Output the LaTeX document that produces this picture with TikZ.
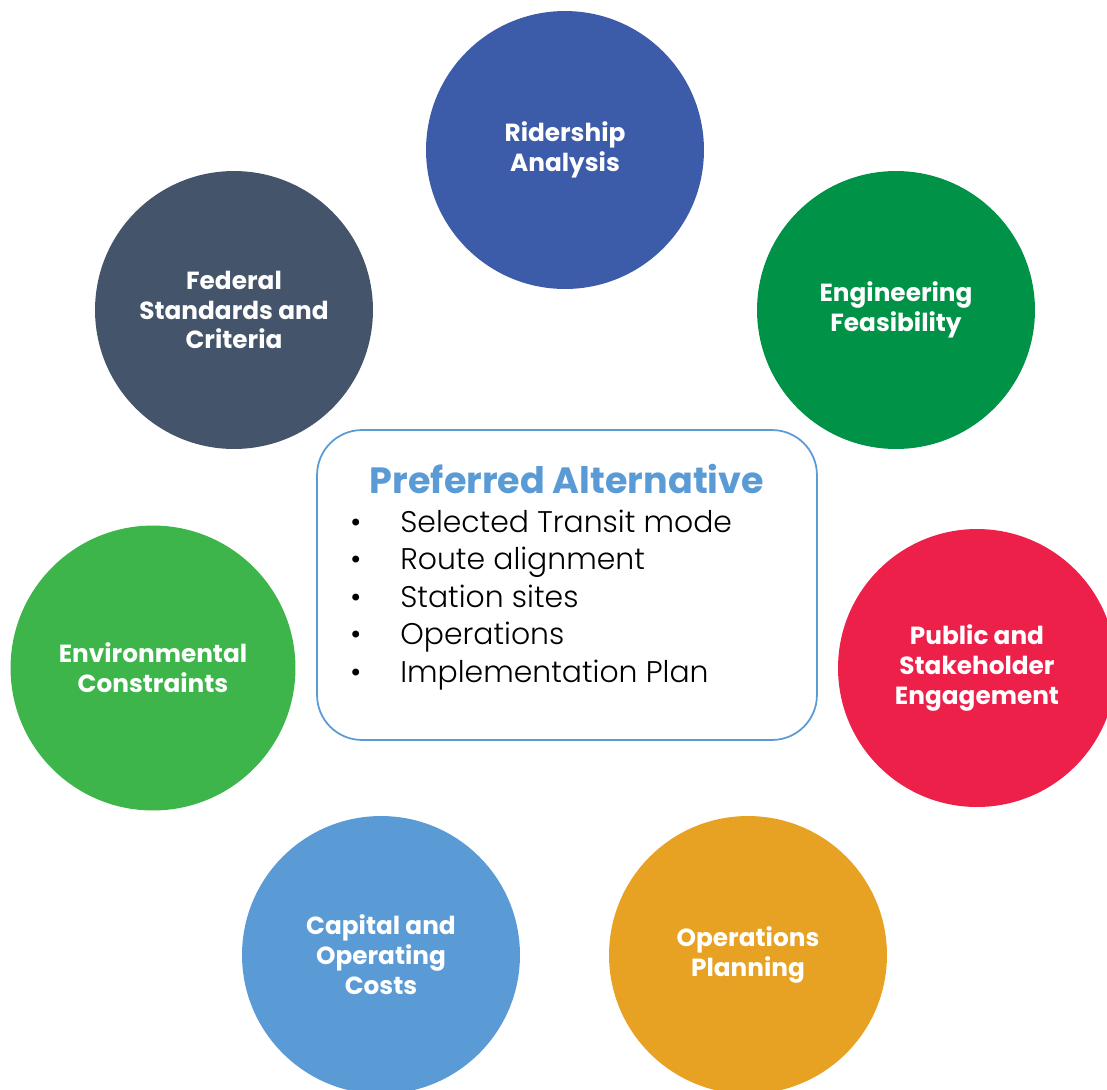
\documentclass[tikz,border=0pt]{standalone}
\usepackage{fontspec}
\setmainfont{Poppins}
\newfontfamily\lightfont{Poppins Light}
\definecolor{ridblue}{HTML}{3C5BA9}
\definecolor{fedgray}{HTML}{44546A}
\definecolor{enggreen}{HTML}{009348}
\definecolor{envgreen}{HTML}{3DB54B}
\definecolor{pubred}{HTML}{EC2049}
\definecolor{capblue}{HTML}{5B9BD5}
\definecolor{opsorange}{HTML}{E8A223}
\tikzset{
  topic/.style={circle,minimum size=5.56cm,inner sep=0pt,text=white,align=center,
    font=\fontsize{14.1}{17}\selectfont\bfseries},
  prefbox/.style={draw=capblue,line width=1pt,rounded corners=0.9cm,fill=white,
    minimum width=10cm,minimum height=6.2cm},
  bullet/.style={anchor=base west,inner sep=0pt,font=\lightfont\fontsize{17}{20}\selectfont}
}
\begin{document}
\begin{tikzpicture}[x=0.02cm,y=-0.02cm]
				\useasboundingbox (0,0) rectangle (1107,1090);
				\clip (0,0) rectangle (1107,1090);
				\node[topic,fill=ridblue] (ridership) at (565,150) {Ridership\\Analysis};
				\node[topic,fill=fedgray] (federal) at (234,310) {Federal\\Standards and\\Criteria};
				\node[topic,fill=enggreen] (engineering) at (896,310) {Engineering\\Feasibility};
				\node[topic,fill=envgreen,minimum size=5.7cm] (environmental) at (153,668) {Environmental\\Constraints};
				\node[topic,fill=pubred] (public) at (977,668) {Public and\\Stakeholder\\Engagement};
				\node[topic,fill=capblue] (capital) at (381,955) {Capital and\\Operating\\Costs};
				\node[topic,fill=opsorange] (operations) at (748,955) {Operations\\Planning};
				\node[prefbox] (preferred) at (567,585) {};
				\node[text=capblue,font=\fontsize{20.8}{24}\selectfont\bfseries] (title) at (567,479) {Preferred Alternative};
				\foreach \txt [count=\i] in {Selected Transit mode,Route alignment,Station sites,Operations,Implementation Plan}{
					\node[bullet] (dot\i) at (350,494.5+37.5*\i) {\textbullet};
					\node[bullet] (item\i) at (400,494.5+37.5*\i) {\txt};
				}
\end{tikzpicture}
\end{document}
